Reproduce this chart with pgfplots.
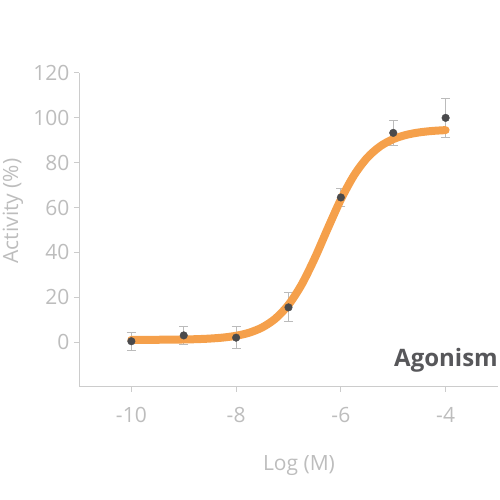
\documentclass[border=0pt]{standalone}
\usepackage{fontspec}
\setmainfont{Open Sans}
\usepackage{pgfplots}
\pgfplotsset{compat=1.18}
\definecolor{lightgray}{HTML}{BDBDBD}
\definecolor{axisgray}{HTML}{CCCCCC}
\definecolor{errgray}{HTML}{BBBBBB}
\definecolor{dotgray}{HTML}{4A4A4C}
\definecolor{curveorange}{HTML}{F5A04B}
\definecolor{textdark}{HTML}{57575A}
\begin{document}
\begin{tikzpicture}[x=1pt,y=1pt]
\path[use as bounding box] (0,0) rectangle (500,500);
\begin{axis}[
  at={(79pt,113pt)}, anchor=south west,
  scale only axis, width=419pt, height=314pt,
  xmin=-11, xmax=-3, ymin=-20, ymax=120,
  axis x line*=bottom, axis y line*=left,
  axis line style={draw=axisgray, line width=1pt, -},
  xtick={-10,-8,-6,-4}, ytick={0,20,...,120},
  tick align=outside, major tick length=5pt,
  tick style={draw=axisgray, line width=1pt},
  ticklabel style={font=\fontsize{21}{21}\selectfont, text=lightgray},
  /pgf/number format/assume math mode=true,
  yticklabel style={xshift=-1pt},
  xticklabel style={yshift=-12pt},
  xlabel={Log (M)}, ylabel={Activity (\%)},
  label style={font=\fontsize{21}{21}\selectfont, text=lightgray},
  x label style={at={(axis description cs:0.525,-0.2516)}, anchor=center},
  y label style={at={(axis description cs:-0.1575,0.5605)}, anchor=center, rotate=0},
  clip=false,
]
% error bars
\addplot[draw=none, mark=none, forget plot,
  error bars/.cd, y dir=both, y explicit,
  error bar style={draw=errgray, line width=1pt},
  error mark options={rotate=90, mark size=4.5pt, line width=1pt, draw=errgray}]
  coordinates {
  (-10,0.4) +- (0,4)
  (-9,3) +- (0,4)
  (-8,2) +- (0,5)
  (-7,15.5) +- (0,6.5)
  (-6,64.5) +- (0,4)
  (-5,93.3) +- (0,5.6)
  (-4,100) +- (0,8.6)
  };
% fitted curve
\addplot[curveorange, line width=8pt, smooth, line cap=round] coordinates {
  (-10,1.02) (-9.75,1.03) (-9.5,1.06) (-9.25,1.11) (-9,1.19) (-8.75,1.33)
  (-8.5,1.59) (-8.25,2.04) (-8,2.84) (-7.75,4.22) (-7.5,6.58) (-7.25,10.49)
  (-7,16.64) (-6.75,25.62) (-6.5,37.36) (-6.25,50.71) (-6,63.62) (-5.75,74.33)
  (-5.5,82.14) (-5.25,87.31) (-5,90.51) (-4.75,92.42) (-4.5,93.53)
  (-4.25,94.17) (-4,94.53)
};
% data points
\addplot[only marks, mark=*, mark size=3.8pt, mark options={fill=dotgray, draw=dotgray}] coordinates {
  (-10,0.4) (-9,3) (-8,2) (-7,15.5) (-6,64.5) (-5,93.3) (-4,100)
};
\node[anchor=base east, inner sep=0pt, font=\fontsize{24}{24}\selectfont\bfseries, text=textdark]
  at (axis cs:-3,-10.7) {Agonism};
\end{axis}
\end{tikzpicture}
\end{document}
